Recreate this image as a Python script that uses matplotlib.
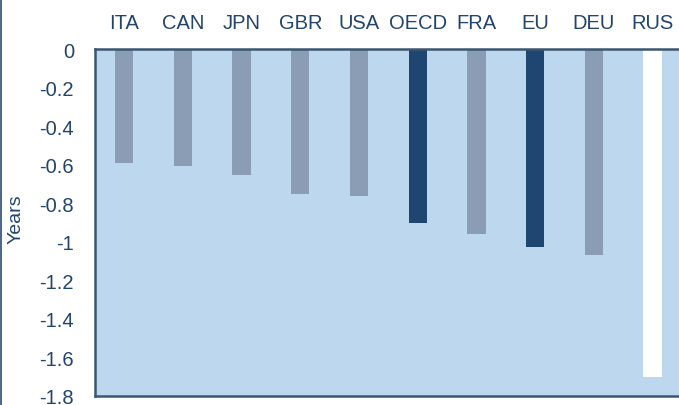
import matplotlib
matplotlib.use("Agg")
import matplotlib.pyplot as plt
from matplotlib.lines import Line2D

categories = ["ITA", "CAN", "JPN", "GBR", "USA", "OECD", "FRA", "EU", "DEU", "RUS"]
values = [-0.59, -0.605, -0.655, -0.75, -0.76, -0.90, -0.96, -1.027, -1.068, -1.70]
bar_colors = ["#8B9DB4", "#8B9DB4", "#8B9DB4", "#8B9DB4", "#8B9DB4",
              "#1F4670", "#8B9DB4", "#1F4670", "#8B9DB4", "#FFFFFF"]
yticks = [0, -0.2, -0.4, -0.6, -0.8, -1, -1.2, -1.4, -1.6, -1.8]
ytick_labels = ["0", "-0.2", "-0.4", "-0.6", "-0.8", "-1", "-1.2", "-1.4", "-1.6", "-1.8"]

text_color = "#23446C"
spine_color = "#3B5670"

plt.rcParams["font.family"] = ["Liberation Sans", "DejaVu Sans"]

fig = plt.figure(figsize=(6.79, 4.06), dpi=100)
ax = fig.add_axes([94.8 / 679, 1 - 397 / 406, (681.9 - 94.8) / 679, (397 - 50) / 406])
ax.set_facecolor("#BDD7EE")

x = list(range(len(categories)))
ax.bar(x, values, width=0.31, color=bar_colors, edgecolor="none", zorder=2)

ax.set_xlim(-0.5, len(categories) - 0.5)
ax.set_ylim(-1.8, 0)
ax.set_yticks(yticks)
ax.set_yticklabels(ytick_labels)
ax.set_xticks(x)
ax.set_xticklabels(categories)
ax.xaxis.tick_top()
ax.tick_params(axis="both", length=0, labelsize=14.5, colors=text_color)
ax.tick_params(axis="y", pad=15)
ax.tick_params(axis="x", pad=12.5)

for s in ["top", "bottom", "left"]:
    ax.spines[s].set_color(spine_color)
    ax.spines[s].set_linewidth(1.8)
    ax.spines[s].set_zorder(3)
ax.spines["right"].set_visible(False)

fig.text(16.5 / 679, 1 - 219 / 406, "Years", rotation=90, ha="center", va="center",
         fontsize=14, color=text_color,
         family=["Liberation Sans Narrow", "Liberation Sans", "DejaVu Sans"])

fig.add_artist(Line2D([1.2 / 679, 1.2 / 679], [0, 1], transform=fig.transFigure,
                      color="#2B4C72", linewidth=1.2))

fig.savefig("out.png", dpi=100)
